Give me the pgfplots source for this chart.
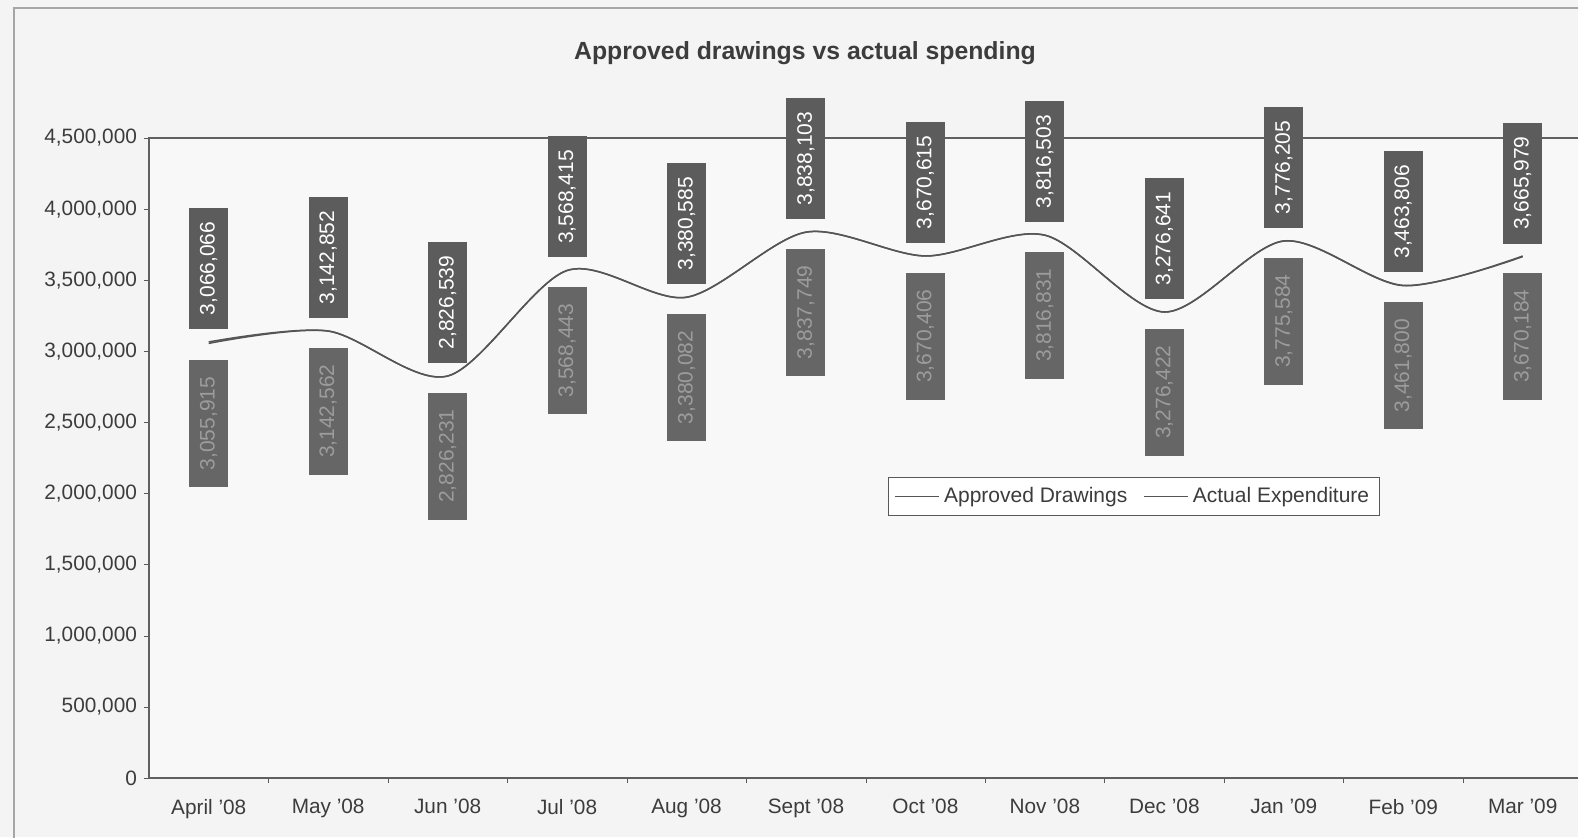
\documentclass[border=0pt]{standalone}
\usepackage{fontspec}
\setmainfont{Liberation Sans}
\usepackage{pgfplots}
\pgfplotsset{compat=1.18}
\usepackage{pgfplotstable}
\definecolor{bgc}{HTML}{F4F4F4}
\definecolor{linec}{HTML}{555555}
\definecolor{boxa}{HTML}{5C5C5C}
\definecolor{boxb}{HTML}{666666}
\definecolor{txtb}{HTML}{9C9C9C}
\definecolor{labc}{HTML}{3C3C3C}

\pgfplotstableread{
x y lab
0 3066066 3,066,066
1 3142852 3,142,852
2 2826539 2,826,539
3 3568415 3,568,415
4 3380585 3,380,585
5 3838103 3,838,103
6 3670615 3,670,615
7 3816503 3,816,503
8 3276641 3,276,641
9 3776205 3,776,205
10 3463806 3,463,806
11 3665979 3,665,979
}\approved
\pgfplotstableread{
x y lab
0 3055915 3,055,915
1 3142562 3,142,562
2 2826231 2,826,231
3 3568443 3,568,443
4 3380082 3,380,082
5 3837749 3,837,749
6 3670406 3,670,406
7 3816831 3,816,831
8 3276422 3,276,422
9 3775584 3,775,584
10 3461800 3,461,800
11 3670184 3,670,184
}\actual

\begin{document}
\begin{tikzpicture}[x=0.5pt,y=0.5pt]
\fill[bgc] (0,0) rectangle (1578,837);
\draw[gray!70,line width=0.8pt] (14,-5) -- (14,829) -- (1590,829);
\node[font=\bfseries\fontsize{12.4}{14}\selectfont, text=labc] at (805,784) {Approved drawings vs actual spending};
\begin{axis}[
  at={(74.5pt,29.5pt)}, anchor=south west,
  scale only axis, width=716.7pt, height=320pt,
  xmin=-0.5, xmax=11.5, ymin=0, ymax=4500000,
  xtick={0,...,11},
  xticklabels={April '08,May '08,Jun '08,Jul '08,Aug '08,Sept '08,Oct '08,Nov '08,Dec '08,Jan '09,Feb '09,Mar '09},
  minor xtick={0.5,1.5,...,10.5},
  ytick={0,500000,...,4500000},
  scaled y ticks=false,
  tick pos=left,
  yticklabel style={/pgf/number format/.cd, fixed, 1000 sep={,}, assume math mode=true},
  tick label style={font=\fontsize{10.4}{12}\selectfont, text=labc},
  xticklabel style={yshift=-4.5pt},
  tick align=outside,
  major tick length=2.5pt, minor tick length=2.5pt,
  x tick style={draw=none},
  minor x tick style={draw=gray!70!black},
  y tick style={draw=gray!70!black},
  axis line style={draw=gray!75!black, line width=0.7pt},
  axis background/.style={fill=bgc!60!white},
  clip=false,
  legend style={at={(0.5157,0.4703)}, anchor=north west, legend columns=2,
    draw=gray!70!black, fill=white, font=\fontsize{10.5}{12}\selectfont, text=labc,
    inner ysep=3pt, inner xsep=3pt,
    /tikz/every even column/.append style={column sep=6pt}},
  legend image code/.code={\draw[#1] (0pt,0pt) -- (22pt,0pt);},
]
\addplot[smooth, tension=0.5, color=linec, line width=0.75pt,
  nodes near coords, point meta=explicit symbolic,
  every node near coord/.style={rotate=90, anchor=west, outer xsep=6.5pt,
    fill=boxa, text=white, font=\fontsize{10.5}{12}\selectfont,
    inner sep=0pt, minimum width=60.5pt, minimum height=19.5pt}]
  table[x=x,y=y,meta=lab]{\approved};
\addlegendentry{Approved Drawings}
\addplot[smooth, tension=0.5, color=linec, line width=0.75pt,
  nodes near coords, point meta=explicit symbolic,
  every node near coord/.style={rotate=90, anchor=east, outer xsep=8.3pt,
    fill=boxb, text=txtb, font=\fontsize{10.5}{12}\selectfont,
    inner sep=0pt, minimum width=63.5pt, minimum height=19.5pt}]
  table[x=x,y=y,meta=lab]{\actual};
\addlegendentry{Actual Expenditure}
\end{axis}
\pgfresetboundingbox
\path[use as bounding box] (0,0) rectangle (1578,837);
\end{tikzpicture}
\end{document}
